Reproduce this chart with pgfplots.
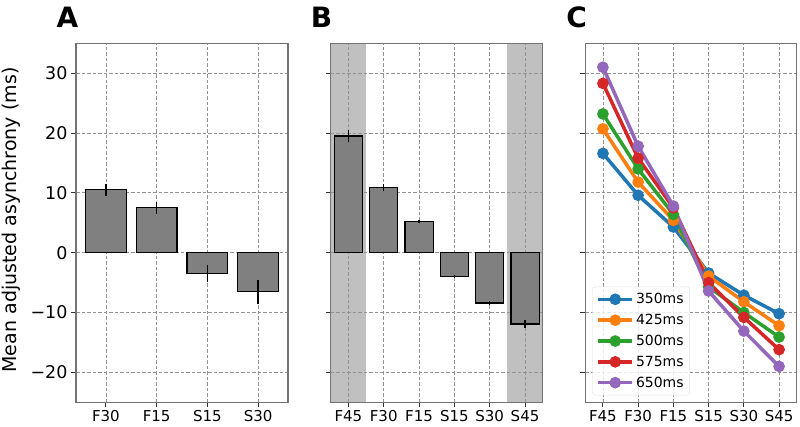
\documentclass[border=0pt]{standalone}
\usepackage{pgfplots}
\pgfplotsset{compat=1.18}
\usepackage{fontspec}
\setmainfont{DejaVu Sans}
\definecolor{c1}{HTML}{1F77B4}
\definecolor{c2}{HTML}{FF7F0E}
\definecolor{c3}{HTML}{2CA02C}
\definecolor{c4}{HTML}{D62728}
\definecolor{c5}{HTML}{9467BD}
\definecolor{shade}{HTML}{C0C0C0}
\definecolor{bargray}{HTML}{808080}
\pgfplotsset{
  panel/.style={
    scale only axis, width=212pt, height=359pt,
    ymin=-25, ymax=35, ytick={-20,-10,0,10,20,30},
    set layers,
    grid=major,
    major grid style={gray!85, line width=0.8pt, dash pattern=on 3.5pt off 2pt},
    axis line style={gray!90!black, line width=1.2pt},
    tick align=outside, xtick pos=bottom, ytick pos=left,
    major tick length=5pt,
    tick style={black!80, line width=1pt},
    xticklabel style={font=\fontsize{15}{15}\selectfont},
    yticklabel style={font=\fontsize{17.5}{17.5}\selectfont},
    anchor=south west,
  },
  bars/.style={ybar, bar width=0.8, fill=bargray, draw=black, line width=1.2pt,
    error bars/.cd, y dir=both, y explicit, error mark=none,
    error bar style={black, line width=1.5pt}},
  ln/.style={color=#1, line width=3.5pt, mark=*, mark size=4pt, mark options={solid, fill=#1, draw=#1}},
}
\begin{document}
\begin{tikzpicture}
% Panel A
\begin{axis}[panel, at={(76pt,23.7pt)}, xmin=-0.59, xmax=3.59,
  xtick={0,1,2,3}, xticklabels={F30,F15,S15,S30},
  yticklabels={−20,−10,0,10,20,30}]
\addplot[bars] coordinates {
 (0,10.5) +- (0,1.0)
 (1,7.5) +- (0,1.0)
 (2,-3.5) +- (0,1.45)
 (3,-6.5) +- (0,2.0)
};
\end{axis}
% Panel B
\begin{axis}[panel, at={(330.7pt,23.7pt)}, xmin=-0.5, xmax=5.5,
  xtick={0,1,2,3,4,5}, xticklabels={F45,F30,F15,S15,S30,S45},
  yticklabels={}]
\addplot[fill=shade, draw=none, on layer=axis background] coordinates {(-0.5,-25) (0.5,-25) (0.5,35) (-0.5,35)} -- cycle;
\addplot[fill=shade, draw=none, on layer=axis background] coordinates {(4.5,-25) (5.5,-25) (5.5,35) (4.5,35)} -- cycle;
\addplot[bars] coordinates {
 (0,19.5) +- (0,1.0)
 (1,10.9) +- (0,0.6)
 (2,5.2) +- (0,0.3)
 (3,-4.0) +- (0,0.3)
 (4,-8.4) +- (0,0.4)
 (5,-11.9) +- (0,0.7)
};
\end{axis}
% Panel C
\begin{axis}[panel, at={(585.3pt,23.7pt)}, width=211.4pt, xmin=-0.5, xmax=5.5,
  xtick={0,1,2,3,4,5}, xticklabels={F45,F30,F15,S15,S30,S45},
  yticklabels={},
  legend style={at={(axis description cs:0,0)}, anchor=south west, xshift=7pt, yshift=7pt,
    font=\fontsize{14}{14}\selectfont, draw=gray!25, rounded corners=3pt, fill=white,
    fill opacity=0.8, text opacity=1, row sep=5pt, inner xsep=4pt, inner ysep=4.5pt},
  legend cell align=left,
  legend image code/.code={\draw[mark repeat=2, mark phase=2, #1] plot coordinates {(0pt,0pt) (17pt,0pt) (34pt,0pt)};}]
\addplot[ln=c1] coordinates {(0,16.6) (1,9.6) (2,4.3) (3,-3.4) (4,-7.1) (5,-10.2)};
\addplot[ln=c2] coordinates {(0,20.7) (1,11.8) (2,5.4) (3,-3.9) (4,-8.2) (5,-12.2)};
\addplot[ln=c3] coordinates {(0,23.2) (1,14.0) (2,6.4) (3,-5.7) (4,-10.0) (5,-14.1)};
\addplot[ln=c4] coordinates {(0,28.3) (1,15.8) (2,7.5) (3,-5.0) (4,-10.8) (5,-16.2)};
\addplot[ln=c5] coordinates {(0,31.0) (1,17.8) (2,7.8) (3,-6.4) (4,-13.1) (5,-19.0)};
\legend{350ms,425ms,500ms,575ms,650ms}
\end{axis}
% labels
\node[rotate=90, inner sep=0pt] at (11pt,206pt) {\fontsize{19}{22}\selectfont Mean adjusted asynchrony (ms)};
\node[font=\bfseries\fontsize{28}{28}\selectfont] at (67.5pt,409pt) {A};
\node[font=\bfseries\fontsize{28}{28}\selectfont] at (321.5pt,409pt) {B};
\node[font=\bfseries\fontsize{28}{28}\selectfont] at (576.7pt,409pt) {C};
\pgfresetboundingbox
\path[use as bounding box] (0,0) rectangle (800pt,426pt);
\end{tikzpicture}
\end{document}
